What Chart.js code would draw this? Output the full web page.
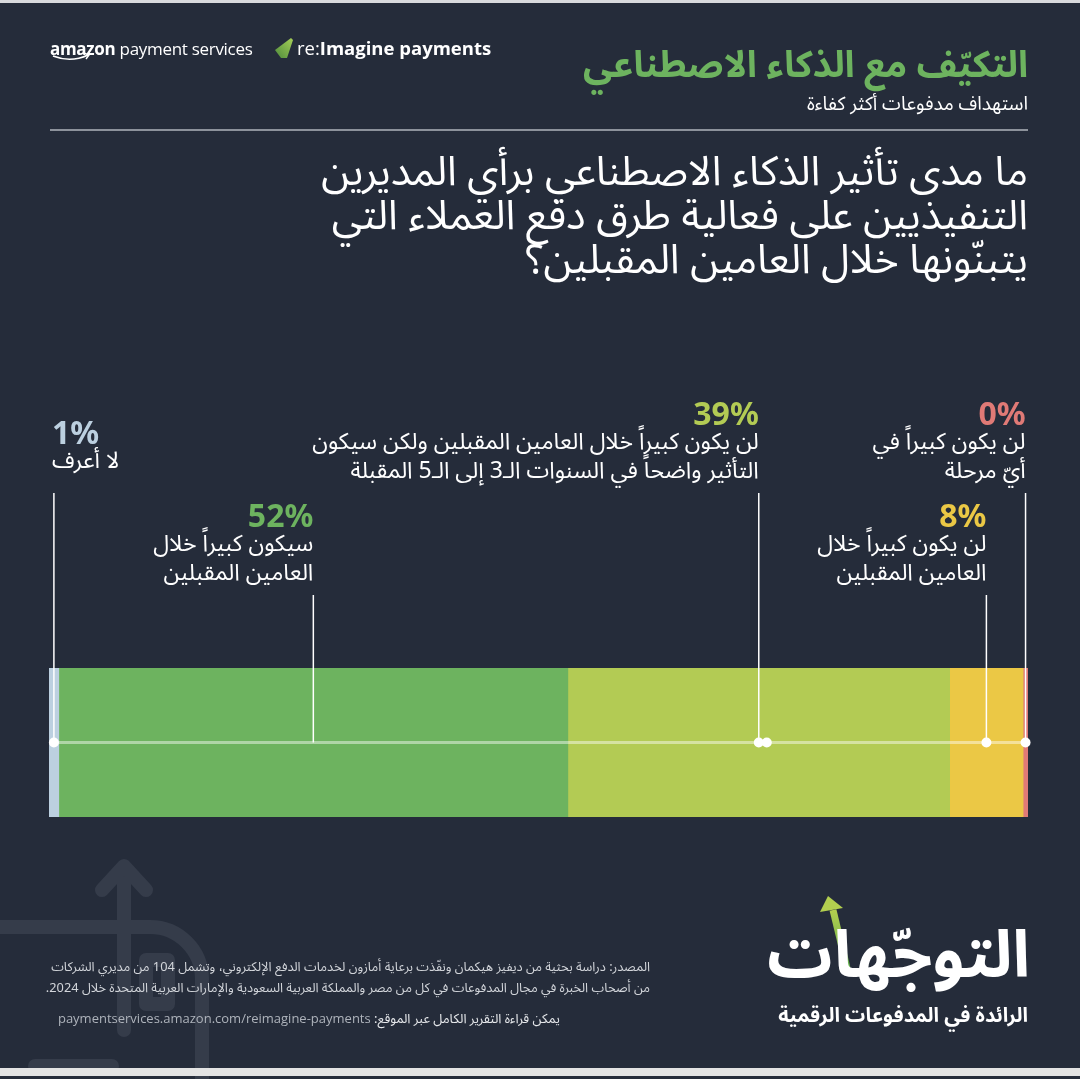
<!DOCTYPE html>
<html lang="ar">
<head>
<meta charset="utf-8">
<title>التكيّف مع الذكاء الاصطناعي</title>
<script src="https://cdn.jsdelivr.net/npm/chart.js@4.4.1/dist/chart.umd.min.js"></script>
<style>
  body { margin: 0; background: #252c3a; }
  #page { position: relative; width: 1080px; height: 1079px; overflow: hidden; background: #252c3a;
          font-family: "Noto Sans Arabic", "DejaVu Sans", "Noto Sans", sans-serif; color: #fff; }
  #page .t { position: absolute; white-space: nowrap; z-index: 3; }
  .rtl { direction: rtl; text-align: right; }
  #chartBox { position: absolute; left: 0; top: 0; width: 1080px; height: 1079px; z-index: 2; }
  #bg { position: absolute; left: 0; top: 0; z-index: 1; }
</style>
</head>
<body>
<div id="page">
  <!-- faint decoration bottom left -->
  <svg id="bg" width="1080" height="1079">
    <g fill="none" stroke="#353c4a" stroke-width="14" stroke-linecap="round" stroke-linejoin="round">
      <path d="M-20 927 H150 a52 52 0 0 1 52 52 V1100"/>
      <path d="M124 1030 V868"/>
      <path d="M102 890 L124 866 L146 890"/>
      <rect x="146" y="960" width="22" height="44"/>
      <path d="M35 1066 H112"/>
    </g>
    <rect x="0" y="0" width="1080" height="3" fill="#d9dadd"/>
    <rect x="0" y="1068" width="1080" height="8" fill="#e3e3e3"/>
    <line x1="50" y1="130" x2="1028" y2="130" stroke="#8d929b" stroke-width="2"/>
    <!-- amazon smile -->
    <path d="M53 56 Q71 63 88 55" fill="none" stroke="#fff" stroke-width="1.6"/>
    <path d="M84 53 L89 55 L86 59" fill="none" stroke="#fff" stroke-width="1.4"/>
    <!-- re:Imagine mark -->
    <defs>
      <linearGradient id="gm" x1="0" y1="1" x2="1" y2="0">
        <stop offset="0" stop-color="#4f8c3c"/><stop offset="1" stop-color="#a6cf58"/>
      </linearGradient>
      <linearGradient id="ga" x1="0" y1="1" x2="0" y2="0">
        <stop offset="0" stop-color="#5fae4b"/><stop offset="1" stop-color="#b3cf4f"/>
      </linearGradient>
    </defs>
    <path d="M275 50 L291 38 L293 40 L287 58 L281 58 Z" fill="url(#gm)"/>
    <!-- logo arrow -->
    <path d="M847 968 L833 910" stroke="url(#ga)" stroke-width="7" fill="none"/>
    <path d="M820 912 L828 896 L843 908 Z" fill="#b3cf4f"/>
  </svg>

  <div class="t" style="left:50px;top:37px;font-family:'Open Sans',sans-serif;font-size:17px;letter-spacing:-0.3px;">
    <b>amazon</b> payment services
  </div>
  <div class="t" style="left:297px;top:35px;font-family:'Open Sans',sans-serif;font-size:18.5px;">
    re:<b>Imagine payments</b>
  </div>

  <div class="t rtl" style="right:52px;top:26px;font-size:37px;font-weight:bold;color:#6db35f;">التكيّف مع الذكاء الاصطناعي</div>
  <div class="t rtl" style="right:52px;top:84px;font-size:19px;">استهداف مدفوعات أكثر كفاءة</div>

  <div class="t rtl" style="right:52px;top:150px;font-size:41px;line-height:44px;">
    ما مدى تأثير الذكاء الاصطناعي برأي المديرين<br>
    التنفيذيين على فعالية طرق دفع العملاء التي<br>
    يتبنّونها خلال العامين المقبلين؟
  </div>

  <div class="t rtl" style="right:430px;top:956px;font-size:12.8px;line-height:21px;color:#d2d5da;">
    المصدر: دراسة بحثية من ديفيز هيكمان ونفّذت برعاية أمازون لخدمات الدفع الإلكتروني، وتشمل 104 من مديري الشركات<br>
    من أصحاب الخبرة في مجال المدفوعات في كل من مصر والمملكة العربية السعودية والإمارات العربية المتحدة خلال 2024.
  </div>
  <div class="t rtl" style="right:520px;top:1005px;font-size:13px;color:#e6e8eb;">
    يمكن قراءة التقرير الكامل عبر الموقع: <span style="color:#aeb3bb;font-family:'Open Sans',sans-serif;">paymentservices.amazon.com/reimagine-payments</span>
  </div>

  <div class="t rtl" style="right:50px;top:917px;font-size:65px;font-weight:bold;line-height:80px;">التوجّهات</div>
  <div class="t rtl" style="right:52px;top:995px;font-size:20px;font-weight:bold;">الرائدة في المدفوعات الرقمية</div>

  <div id="chartBox"><canvas id="chart"></canvas></div>
</div>

<script>
// segments left to right
const segments = ['dont-know', 'big-2y', 'later-3-5y', 'not-big-2y', 'never'];
const shares = [1, 52, 39, 7.5, 0.5];
const shareLabels = ['1%', '52%', '39%', '8%', '0%'];
const descriptions = [
    ['لا أعرف'],
    ['سيكون كبيراً خلال', 'العامين المقبلين'],
    ['لن يكون كبيراً خلال العامين المقبلين ولكن سيكون', 'التأثير واضحاً في السنوات الـ3 إلى الـ5 المقبلة'],
    ['لن يكون كبيراً خلال', 'العامين المقبلين'],
    ['لن يكون كبيراً في', 'أيّ مرحلة'],
];
const colors = ['#bcd0e0', '#6db35f', '#b3cb54', '#ebc845', '#e07a76'];

// label placement: how far above the bar the leader starts, gap to text, which side the text sits
const leaderLift = [175, 73, 175, 73, 175];
const textGap = [28, 18, 18, 18, 18];
const alignLeft = [true, false, false, false, false];
const dots = [[0], [], [0, 8], [0], [0]];

const arabicFont = '"Noto Sans Arabic", "DejaVu Sans", sans-serif';
const numFont = '"Noto Sans", "Open Sans", sans-serif';

const annotate = {
    id: 'annotate',
    afterDatasetsDraw(chart) {
        const ctx = chart.ctx;
        const area = chart.chartArea;
        const pts = chart.data.datasets.map((ds, i) => {
            const el = chart.getDatasetMeta(i).data[0];
            return { x: (el.x + el.base) / 2, y: el.y };
        });
        ctx.save();

        // guide line through the middle of the bar
        ctx.strokeStyle = 'rgba(255,255,255,0.45)';
        ctx.lineWidth = 3;
        ctx.beginPath();
        ctx.moveTo(pts[0].x, pts[0].y);
        ctx.lineTo(pts[pts.length - 1].x, pts[0].y);
        ctx.stroke();

        pts.forEach((p, i) => {
            const top = area.top - leaderLift[i];
            ctx.strokeStyle = '#ffffff';
            ctx.lineWidth = 1.5;
            ctx.beginPath();
            ctx.moveTo(p.x, top);
            ctx.lineTo(p.x, p.y);
            ctx.stroke();

            ctx.fillStyle = '#ffffff';
            dots[i].forEach((dx) => {
                ctx.beginPath();
                ctx.arc(p.x + dx, p.y, 5, 0, Math.PI * 2);
                ctx.fill();
            });

            const tx = alignLeft[i] ? p.x - 2 : p.x;
            const lines = descriptions[i];
            ctx.direction = 'rtl';
            ctx.textAlign = alignLeft[i] ? 'left' : 'right';
            ctx.textBaseline = 'middle';
            ctx.font = '23px ' + arabicFont;
            const lastY = top - textGap[i];
            lines.forEach((line, j) => {
                const y = lastY - (lines.length - 1 - j) * 29;
                ctx.fillText(line, tx, y);
            });
            const firstY = lastY - (lines.length - 1) * 29;
            ctx.direction = 'ltr';
            ctx.textBaseline = 'alphabetic';
            ctx.font = 'bold 32px ' + numFont;
            ctx.fillStyle = colors[i];
            ctx.fillText(shareLabels[i], tx, firstY - 21);
        });
        ctx.restore();
    },
};

new Chart(document.getElementById('chart'), {
    type: 'bar',
    data: {
        labels: ['AI impact'],
        datasets: segments.map((name, i) => ({
            label: name,
            data: [shares[i]],
            backgroundColor: colors[i],
            borderWidth: 0,
            barPercentage: 1,
            categoryPercentage: 1,
        })),
    },
    options: {
        indexAxis: 'y',
        responsive: true,
        maintainAspectRatio: false,
        animation: false,
        layout: {
            padding: { left: 49, right: 52, top: 668, bottom: 262 },
        },
        scales: {
            x: { stacked: true, min: 0, max: 100, display: false },
            y: { stacked: true, display: false },
        },
        plugins: {
            legend: { display: false },
            tooltip: { enabled: false },
        },
    },
    plugins: [annotate],
});
</script>
</body>
</html>
